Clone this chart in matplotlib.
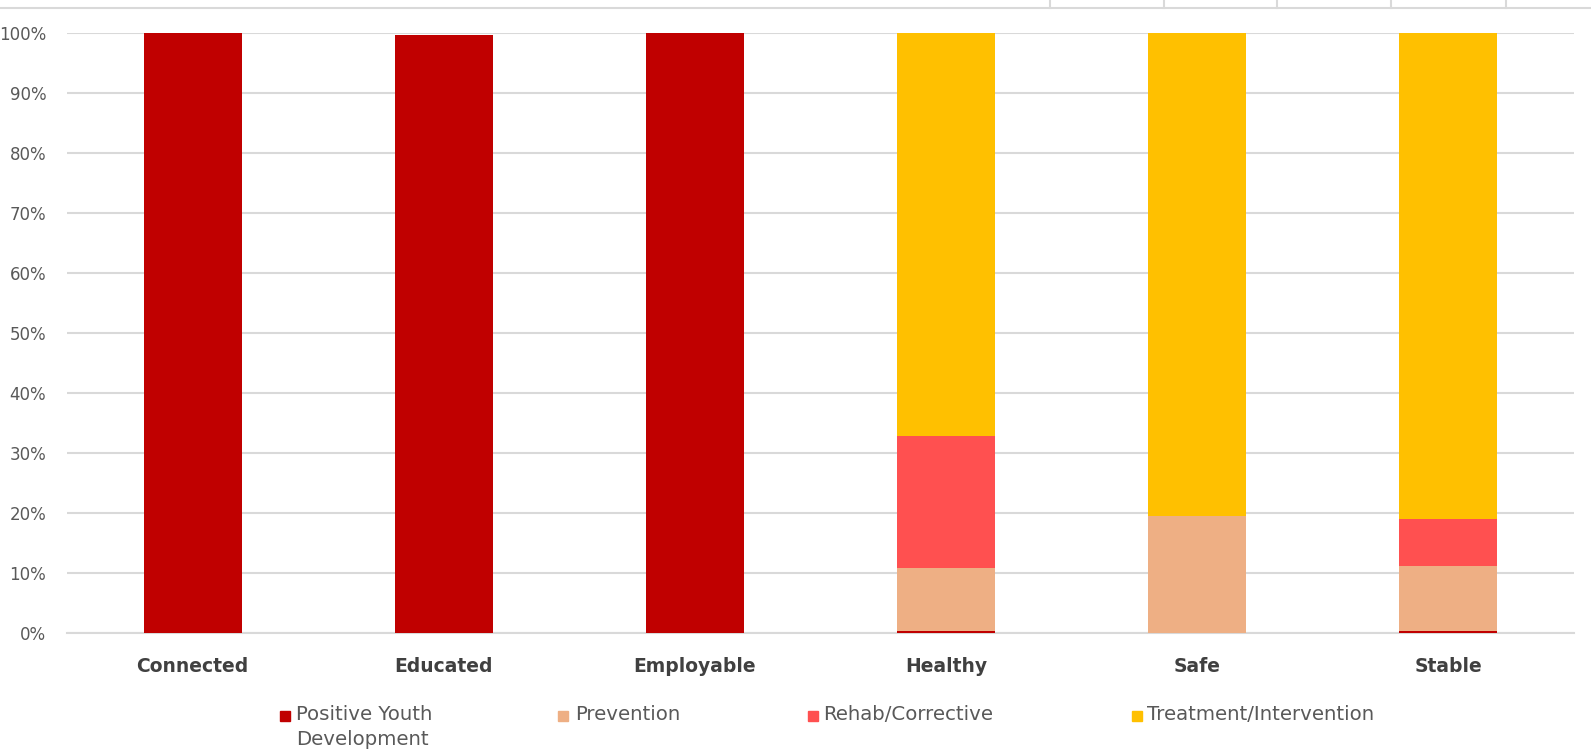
import matplotlib.pyplot as plt
import numpy as np
from matplotlib.patches import Rectangle
from matplotlib.lines import Line2D

categories = ["Connected", "Educated", "Employable", "Healthy", "Safe", "Stable"]
series = ["Positive Youth\nDevelopment", "Prevention", "Rehab/Corrective", "Treatment/Intervention"]
positive_youth = [100.0, 99.6, 100.0, 0.4, 0.0, 0.4]
prevention = [0.0, 0.0, 0.0, 10.4, 19.5, 10.7]
rehab = [0.0, 0.0, 0.0, 22.0, 0.0, 7.9]
treatment = [0.0, 0.0, 0.0, 67.2, 80.5, 81.0]
colors = ["#C00000", "#EEAF84", "#FF5050", "#FFC000"]

plt.rcParams['font.family'] = ['DejaVu Sans']

fig = plt.figure(figsize=(15.91, 7.5), dpi=100)
ax = fig.add_axes([0.0421, 0.156, 0.947, 0.8])

x = np.arange(len(categories))
bottom = np.zeros(len(categories))
for vals, c in zip([positive_youth, prevention, rehab, treatment], colors):
    v = np.array(vals) / 100
    ax.bar(x, v, width=0.39, bottom=bottom, color=c, zorder=3)
    bottom += v

ax.set_xlim(-0.5, len(categories) - 0.5)
ax.set_ylim(0, 1)
ax.set_yticks(np.arange(0, 1.01, 0.1))
ax.set_yticklabels([f"{int(round(t * 100))}%" for t in np.arange(0, 1.01, 0.1)],
                   fontsize=12, color="#595959")
ax.set_xticks(x)
ax.set_xticklabels(categories, fontsize=13.5, fontweight="bold", color="#404040")
ax.tick_params(axis="y", length=0, pad=15)
ax.tick_params(axis="x", length=0, pad=17)
ax.grid(axis="y", color="#d9d9d9", linewidth=1.5, zorder=0)
for s in ["top", "right", "left"]:
    ax.spines[s].set_visible(False)
ax.spines["bottom"].set_color("#d9d9d9")
ax.spines["bottom"].set_linewidth(1.5)

# table remnants at the top of the crop
fig.add_artist(Line2D([0, 1], [1 - 8 / 750, 1 - 8 / 750], color="#d9d9d9", lw=1.5))
for px in [1050, 1164, 1277, 1391, 1506]:
    fig.add_artist(Line2D([px / 1591, px / 1591], [1 - 8 / 750, 1], color="#d9d9d9", lw=1.5))

# legend
mark_x = [280, 558, 808, 1132]
text_x = [296, 575, 823, 1147]
for name, c, mx, tx in zip(series, colors, mark_x, text_x):
    fig.add_artist(Rectangle((mx / 1591, 1 - 721 / 750), 10 / 1591, 10 / 750,
                             color=c, transform=fig.transFigure))
    fig.text(tx / 1591, 1 - 705 / 750, name, fontsize=14.2, color="#595959",
             va="top", ha="left", linespacing=1.4)

fig.savefig("out.png", dpi=100)
